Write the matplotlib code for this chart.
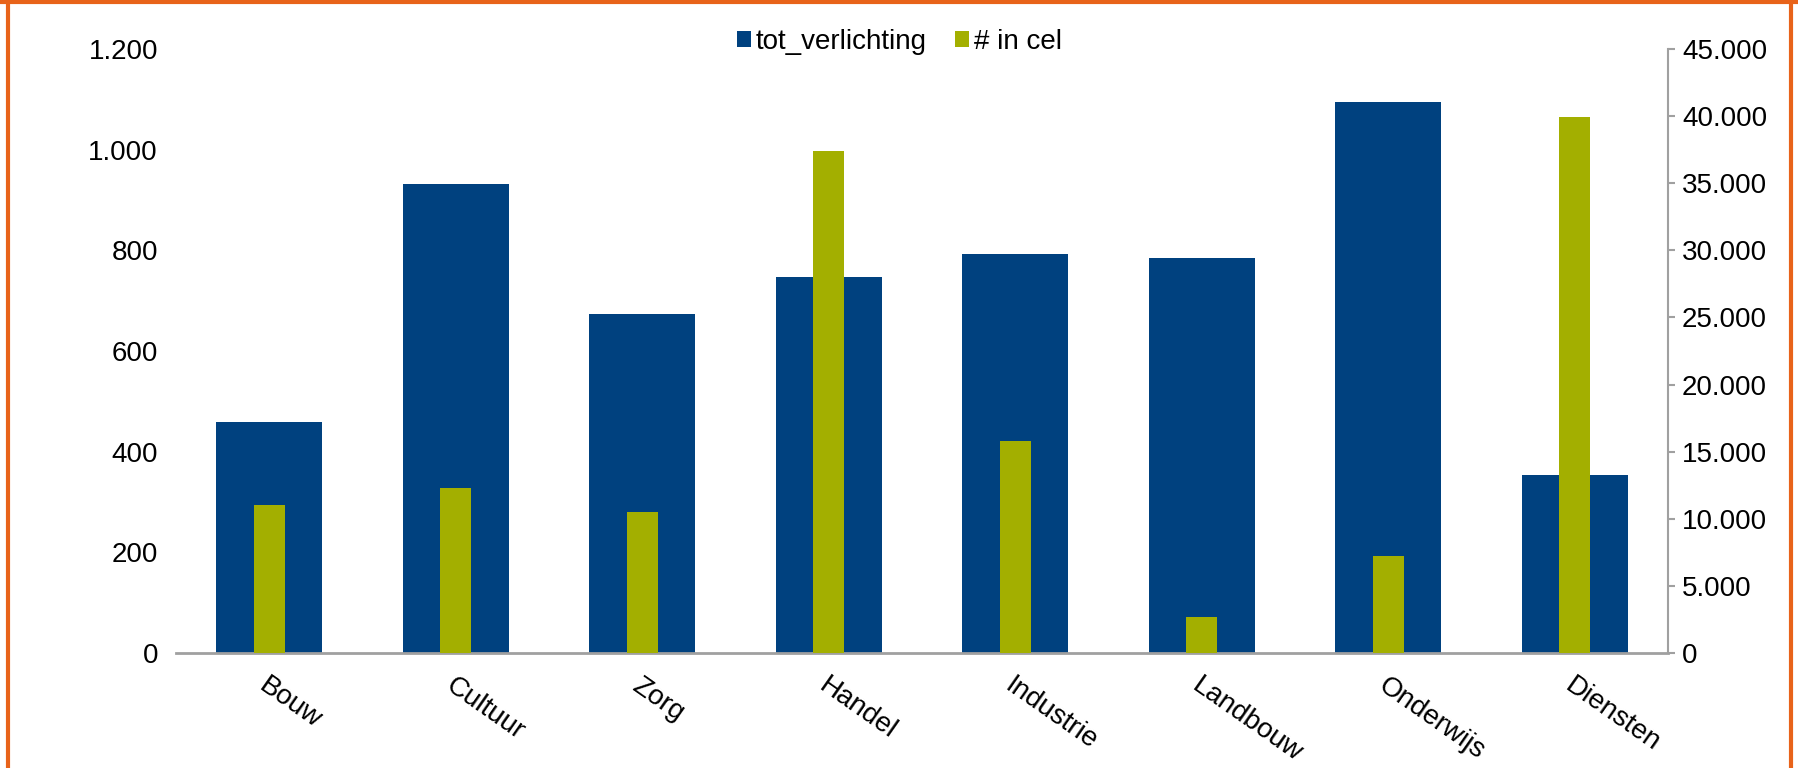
import numpy as np
import matplotlib
matplotlib.use("Agg")
import matplotlib.pyplot as plt
from matplotlib.ticker import FuncFormatter
from matplotlib.lines import Line2D

plt.rcParams['font.family'] = ['Liberation Sans', 'DejaVu Sans']

categories = ["Bouw", "Cultuur", "Zorg", "Handel", "Industrie", "Landbouw", "Onderwijs", "Diensten"]
tot_verlichting = [459, 932, 673, 748, 793, 785, 1095, 354]
in_cel = [11000, 12300, 10500, 37400, 15800, 2650, 7250, 39900]

blue = '#00417F'
green = '#A3AF00'
grey = '#A0A0A0'


def dotted(v, pos):
  return f"{int(v):,}".replace(",", ".")


fig = plt.figure(figsize=(17.99, 7.68), dpi=100)
ax = fig.add_axes([176/1799, 1 - 653/768, (1668 - 176)/1799, (653 - 49)/768])
ax2 = ax.twinx()

x = np.arange(len(categories))
ax.bar(x, tot_verlichting, width=0.57, color=blue, label="tot_verlichting", zorder=2)
ax2.bar(x, in_cel, width=0.167, color=green, label="# in cel", zorder=3)

ax.set_xlim(-0.5, len(categories) - 0.5)
ax.set_ylim(0, 1200)
ax2.set_ylim(0, 45000)
ax.set_yticks(np.arange(0, 1201, 200))
ax2.set_yticks(np.arange(0, 45001, 5000))
ax.yaxis.set_major_formatter(FuncFormatter(dotted))
ax2.yaxis.set_major_formatter(FuncFormatter(dotted))

for a in (ax, ax2):
  for s in ('top', 'left', 'right', 'bottom'):
    a.spines[s].set_visible(False)
ax.spines['bottom'].set_visible(True)
ax.spines['bottom'].set_color(grey)
ax.spines['bottom'].set_linewidth(2)
ax2.spines['right'].set_visible(True)
ax2.spines['right'].set_color(grey)
ax2.spines['right'].set_linewidth(1.5)

ax.tick_params(axis='y', length=0, pad=13, labelsize=20)
ax2.tick_params(axis='y', length=5, width=1.5, color=grey, pad=5, labelsize=20)
ax.tick_params(axis='x', length=0, pad=14)
ax.set_xticks(x)
ax.set_xticklabels(categories, rotation=-35, ha='left', va='top', rotation_mode='anchor', fontsize=20)

h1, l1 = ax.get_legend_handles_labels()
h2, l2 = ax2.get_legend_handles_labels()
fig.legend(h1 + h2, l1 + l2, loc='center', bbox_to_anchor=(0.5, 1 - 42/768), ncol=2, frameon=False,
           fontsize=20, handlelength=0.5, handleheight=0.5, handletextpad=0.2, columnspacing=1.0)

orange = '#E8631A'
fig.add_artist(Line2D([8/1799, 8/1799], [0, 1], transform=fig.transFigure, color=orange, lw=3))
fig.add_artist(Line2D([1791/1799, 1791/1799], [0, 1], transform=fig.transFigure, color=orange, lw=3))
fig.add_artist(Line2D([0, 1], [1 - 1.5/768, 1 - 1.5/768], transform=fig.transFigure, color=orange, lw=3))

fig.savefig("out.png", dpi=100)
